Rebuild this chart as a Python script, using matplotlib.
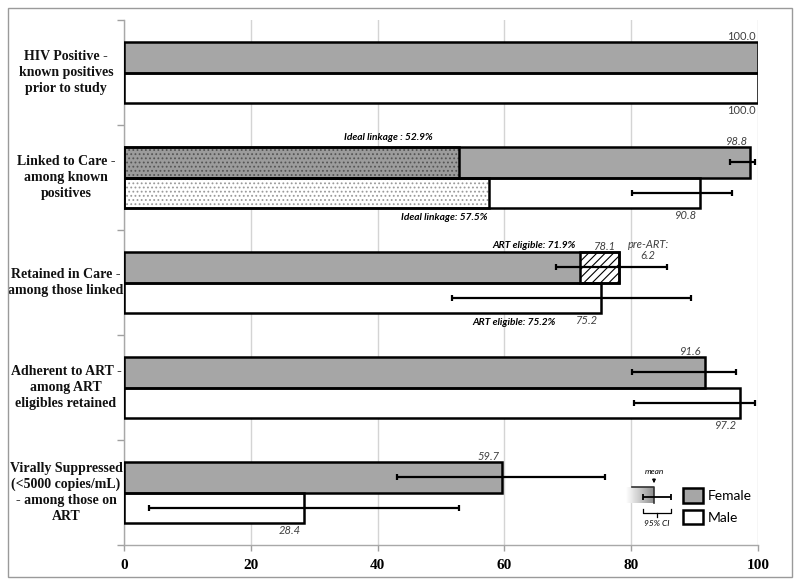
import numpy as np
import matplotlib
matplotlib.use("Agg")
import matplotlib.pyplot as plt
from matplotlib.colors import LinearSegmentedColormap
from matplotlib.patches import Rectangle

plt.rcParams['font.family'] = ['Lato', 'DejaVu Sans']
plt.rcParams['hatch.linewidth'] = 0.8

# ---- data ----
categories = [
    "HIV Positive -\nknown positives\nprior to study",
    "Linked to Care -\namong known\npositives",
    "Retained in Care -\namong those linked",
    "Adherent to ART -\namong ART\neligibles retained",
    "Virally Suppressed\n(<5000 copies/mL)\n- among those on\nART",
]
female = [100.0, 98.8, 78.1, 91.6, 59.7]
male = [100.0, 90.8, 75.2, 97.2, 28.4]
female_lo = [np.nan, 95.6, 68.1, 80.1, 43.1]
female_hi = [np.nan, 99.6, 85.7, 96.5, 75.8]
male_lo = [np.nan, 80.1, 51.8, 80.5, 4.0]
male_hi = [np.nan, 95.9, 89.5, 99.5, 52.8]
ideal_linkage_female = 52.9
ideal_linkage_male = 57.5
art_eligible_female = 71.9
art_eligible_male = 75.2
pre_art_female = 6.2
xticks = [0, 20, 40, 60, 80, 100]

FEMALE_C = "#a6a6a6"
EDGE_LW = 1.8
H = 0.286

fig = plt.figure(figsize=(8, 5.85), dpi=100)
ax = fig.add_axes([124 / 800, 1 - 545 / 585, 634 / 800, 525 / 585])

y = np.arange(len(categories))
yf = y - H / 2
ym = y + H / 2

# base bars
ax.barh(yf, female, height=H, color=FEMALE_C, edgecolor="none", zorder=2)
ax.barh(ym, male, height=H, color="white", edgecolor="none", zorder=2)

# ideal linkage stipple (category 1)
ax.barh(yf[1], ideal_linkage_female, height=H, color="#9c9c9c", edgecolor="#555555",
        hatch="....", linewidth=0, zorder=3)
ax.barh(ym[1], ideal_linkage_male, height=H, color="white", edgecolor="#9a9a9a",
        hatch="....", linewidth=0, zorder=3)
ax.barh(yf[1], ideal_linkage_female, height=H, fill=False, edgecolor="black",
        linewidth=EDGE_LW, zorder=4)
ax.barh(ym[1], ideal_linkage_male, height=H, fill=False, edgecolor="black",
        linewidth=EDGE_LW, zorder=4)

# pre-ART hatched segment (category 2)
ax.barh(yf[2], pre_art_female, left=art_eligible_female, height=H, color="white",
        edgecolor="black", hatch="////", linewidth=EDGE_LW, zorder=4)

# outlines
ax.barh(yf, female, height=H, fill=False, edgecolor="black", linewidth=EDGE_LW, zorder=5)
ax.barh(ym, male, height=H, fill=False, edgecolor="black", linewidth=EDGE_LW, zorder=5)

# confidence intervals
for lo, hi, yy in [(female_lo, female_hi, yf), (male_lo, male_hi, ym)]:
    lo = np.array(lo); hi = np.array(hi)
    ok = ~np.isnan(lo)
    mid = (lo + hi) / 2
    ax.errorbar(mid[ok], yy[ok], xerr=((hi - lo) / 2)[ok], fmt="none", ecolor="black",
                elinewidth=1.6, capsize=2.5, capthick=1.6, zorder=6)

# value labels
for i in range(len(categories)):
    lab_kw = dict(fontsize=8, color="#404040", style="normal" if i == 0 else "italic",
                  textcoords="offset points", ha="right")
    ax.annotate(f"{female[i]:.1f}", (female[i], yf[i] - H / 2), xytext=(-2, 0.5),
                va="bottom", **lab_kw)
    ax.annotate(f"{male[i]:.1f}", (male[i], ym[i] + H / 2), xytext=(-2, -1.5),
                va="top", **lab_kw)

note_kw = dict(fontsize=7.3, fontweight="bold", style="italic", color="black",
               textcoords="offset points", ha="right")
ax.annotate(f"Ideal linkage : {ideal_linkage_female}%", (ideal_linkage_female, yf[1] - H / 2),
            xytext=(-19.5, 4), va="bottom", **note_kw)
ax.annotate(f"Ideal linkage: {ideal_linkage_male}%", (ideal_linkage_male, ym[1] + H / 2),
            xytext=(-1, -4), va="top", **note_kw)
ax.annotate(f"ART eligible: {art_eligible_female}%", (art_eligible_female, yf[2] - H / 2),
            xytext=(-3, 2), va="bottom", **note_kw)
ax.annotate(f"ART eligible: {art_eligible_male}%", (art_eligible_male, ym[2] + H / 2),
            xytext=(-32.5, -4), va="top", **note_kw)
ax.annotate(f"pre-ART:\n{pre_art_female}", (female[2], yf[2] - H / 2), xytext=(21, 2),
            textcoords="offset points", ha="center", va="center", fontsize=8,
            style="italic", color="#404040", linespacing=1.0)

# category labels
for i, lab in enumerate(categories):
    ax.text(-0.0915, i, lab, transform=ax.get_yaxis_transform(), ha="center", va="center",
            multialignment="center", fontsize=10, fontweight="bold",
            family=["Liberation Serif", "DejaVu Serif"], linespacing=1.3, color="#111111")

# axes styling
ax.set_xlim(0, 100)
ax.set_ylim(len(categories) - 0.5, -0.5)
ax.set_xticks(xticks)
ax.set_xticklabels([str(t) for t in xticks], fontsize=11, fontweight="bold",
                   family=["Liberation Serif", "DejaVu Serif"])
ax.set_yticks(np.arange(len(categories) + 1) - 0.5)
ax.set_yticklabels([])
ax.tick_params(axis="both", colors="#a0a0a0", length=5, width=1)
ax.tick_params(axis="x", labelcolor="black", pad=6, length=4)
ax.grid(axis="x", color="#d4d4d4", linewidth=1, zorder=0)
ax.set_axisbelow(True)
for s in ["top", "right"]:
    ax.spines[s].set_visible(False)
for s in ["left", "bottom"]:
    ax.spines[s].set_color("#a8a8a8")
    ax.spines[s].set_linewidth(1)

# legend for Female / Male
fh = Rectangle((0, 0), 1, 1, facecolor=FEMALE_C, edgecolor="black", linewidth=EDGE_LW)
mh = Rectangle((0, 0), 1, 1, facecolor="white", edgecolor="black", linewidth=EDGE_LW)
ax.legend([fh, mh], ["Female", "Male"], loc="upper left",
          bbox_to_anchor=((683 - 124) / 634, 1 - (488 - 20) / 525),
          frameon=False, fontsize=10, handlelength=1.45, handleheight=1.25,
          handletextpad=0.3, labelspacing=0.5, borderpad=0, borderaxespad=0)

# key for mean / 95% CI
kax = fig.add_axes([620 / 800, 1 - 535 / 585, 60 / 800, 70 / 585])
kax.set_xlim(620, 680)
kax.set_ylim(535, 465)
kax.axis("off")
cmap = LinearSegmentedColormap.from_list("fade", ["white", "#c8c8c8", "#8f8f8f"])
kax.imshow(np.linspace(0, 1, 64)[None, :], cmap=cmap, extent=(626, 654, 503, 487),
           aspect="auto", zorder=1)
kax.plot([632, 654, 654], [487, 487, 503], color="#333333", lw=1.2, zorder=2)
kax.errorbar(654, 497, xerr=[[11], [17]], fmt="none", ecolor="black", elinewidth=1.3,
             capsize=2.5, capthick=1.3, zorder=3)
kax.text(654, 472, "mean", ha="center", va="center", fontsize=6, style="italic")
kax.annotate("", xy=(654, 486), xytext=(654, 476),
             arrowprops=dict(arrowstyle="-|>", color="black", lw=0.8, mutation_scale=5))
kax.plot([643, 643, 671, 671], [509, 513, 513, 509], color="black", lw=0.9)
kax.plot([657, 657], [513, 517], color="black", lw=0.9)
kax.text(657, 523, "95% CI", ha="center", va="center", fontsize=6, style="italic")

# outer frame
fig.patches.append(Rectangle((8 / 800, 8 / 585), 784 / 800, 569 / 585, transform=fig.transFigure,
                             fill=False, edgecolor="#9a9a9a", linewidth=1))

fig.savefig("out.png", dpi=100)
